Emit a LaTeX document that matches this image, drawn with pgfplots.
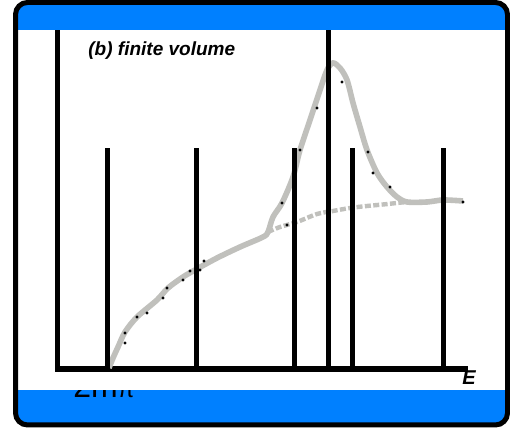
\documentclass[border=0pt]{standalone}
\usepackage{pgfplots}
\pgfplotsset{compat=1.18}
\usepackage{fontspec}
\setmainfont{Liberation Sans}
\definecolor{bandblue}{RGB}{0,128,255}
\definecolor{curvegray}{RGB}{192,192,188}
\begin{document}
\begin{tikzpicture}
\begin{scope}[x=0.5bp,y=0.5bp]
\useasboundingbox (0,0) rectangle (510,432);
\clip[rounded corners=5bp] (15.5,7) rectangle (507.5,429.5);
\fill[white] (0,0) rectangle (510,432);
\fill[bandblue] (0,0) rectangle (510,42);
\node[anchor=base west, inner sep=0pt, font=\fontsize{16bp}{18bp}\selectfont] at (73,34) {2m{\fontsize{12bp}{14bp}\selectfont π}};
\fill[white] (0,42) rectangle (510,402);
\end{scope}
\begin{axis}[at={(28.75bp,31.5bp)}, anchor=south west, scale only axis,
  width=203.75bp, height=169.5bp,
  xmin=57.5, xmax=465, ymin=0, ymax=339,
  axis x line*=bottom, axis y line*=left,
  axis line style={-, line width=2.8bp, black, line cap=rect},
  xtick=\empty, ytick=\empty, clip=false]
% background (dashed) continuation
\addplot[curvegray, line width=2.2bp, dash pattern=on 3bp off 1.2bp, smooth] coordinates {
(268,137) (280,142) (297,147) (317,155) (333,158) (350,161) (367,163) (383,164.5) (397,166) (407,167)};
% main curve
\addplot[curvegray, line width=2.8bp, smooth, tension=0.5] coordinates {
(109,1) (113,11) (118,22) (125,37) (137,52) (157,69) (168,81) (183,92) (195,99) (217,111) (240,122) (263,132) (268,137)
(273,152) (282,166) (293,192) (300,219) (310,249) (320,279) (327,299) (333,306) (340,301) (347,289) (353,266)
(360,242) (367,219) (377,196) (387,182) (397,172) (407,167) (427,167) (443,169) (463,168)};
% small dots
\addplot[only marks, mark=*, mark size=0.55bp, black] coordinates {
(125,36) (125,26) (137,52) (147,56) (163,71) (167,81) (183,89) (190,98) (200,99) (204,108)
(282,166) (287,144) (300,219) (317,261) (342,287) (368,217) (373,196) (390,182) (463,167)};
% spikes
\addplot[ycomb, black, line width=2.8bp, no marks] coordinates {
(107.5,221) (196.5,221) (294.5,221) (328.5,345) (352.5,221) (443.5,221)};
\end{axis}
\begin{scope}[x=0.5bp,y=0.5bp]
\begin{scope}
\clip[rounded corners=5bp] (15.5,7) rectangle (507.5,429.5);
\fill[bandblue] (0,402) rectangle (510,432);
\end{scope}
\node[anchor=west, inner sep=0pt, font=\fontsize{9.5bp}{11bp}\selectfont\bfseries\itshape] at (88,381) {(b) finite volume};
\node[inner sep=0pt, font=\fontsize{10bp}{12bp}\selectfont\bfseries\itshape] at (469,54) {E};
\draw[line width=2.5bp, rounded corners=6bp] (15.5,7) rectangle (507.5,429.5);
\end{scope}
\end{tikzpicture}
\end{document}
